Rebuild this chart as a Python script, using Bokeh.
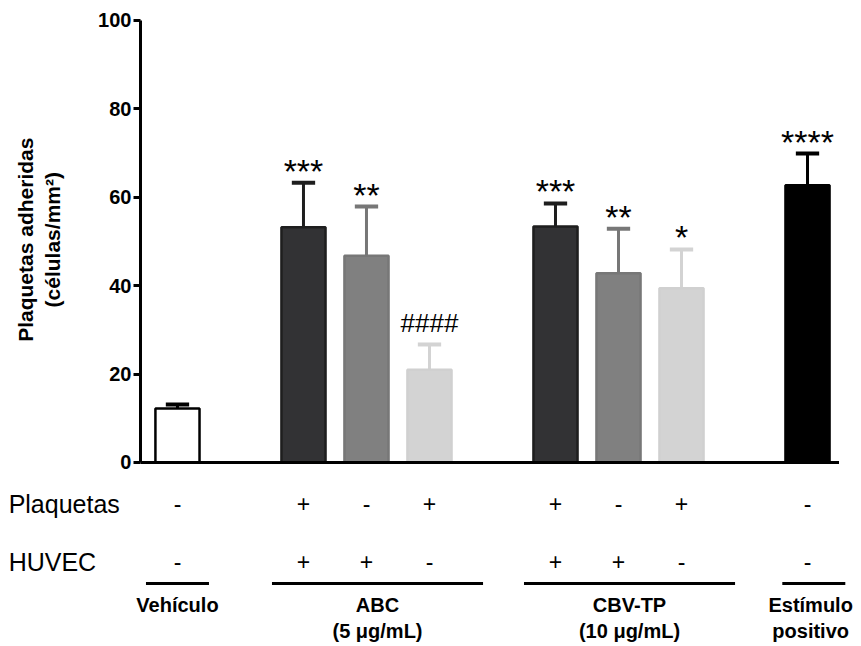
import math
from bokeh.plotting import figure
from bokeh.models import ColumnDataSource, Range1d, FixedTicker
from bokeh.core.properties import value
from bokeh.embed import file_html
from bokeh.resources import INLINE

# ---------------- data ----------------
groups = ["Vehículo", "ABC\n(5 μg/mL)", "CBV-TP\n(10 μg/mL)", "Estímulo\npositivo"]
bar_group = [0, 1, 1, 1, 2, 2, 2, 3]
means = [12.2, 53.2, 46.8, 21.0, 53.4, 42.8, 39.4, 62.7]
errors = [0.9, 10.1, 11.1, 5.7, 5.2, 10.1, 8.8, 7.2]
signif = ["", "***", "**", "####", "***", "**", "*", "****"]
plaquetas = ["-", "+", "-", "+", "+", "-", "+", "-"]
huvec = ["-", "+", "+", "-", "+", "+", "-", "-"]
row_labels = ["Plaquetas", "HUVEC"]
y_title = "Plaquetas adheridas\n(células/mm²)"
y_ticks = [0, 20, 40, 60, 80, 100]

# ---------------- styles ----------------
fills = ["#ffffff", "#323234", "#808080", "#d3d3d3", "#323234", "#808080", "#d3d3d3", "#000000"]
lines = ["#000000", "#1e1e1e", "#777777", "#d0d0d0", "#1e1e1e", "#777777", "#d0d0d0", "#000000"]
err_colors = ["#000000", "#1e1e1e", "#777777", "#d3d3d3", "#1e1e1e", "#777777", "#d3d3d3", "#000000"]
FONT = "Liberation Sans"

# positions: one slot per bar, one empty slot between groups
xs = [i + g for i, g in enumerate(bar_group)]

BAR_W = 0.7
CAP_W = 0.37
X0, X1 = -2.809, 10.857
AXIS_X = -0.587

p = figure(width=861, height=646, output_backend="svg", toolbar_location=None,
           x_range=Range1d(X0, X1), y_range=Range1d(-41.63, 104.52),
           min_border=0, min_border_left=0, min_border_right=0,
           min_border_top=0, min_border_bottom=0,
           x_axis_location=None)
p.outline_line_color = None
p.grid.visible = False
p.background_fill_color = "white"
p.border_fill_color = "white"

yax = p.yaxis[0]
yax.fixed_location = AXIS_X
yax.bounds = (0, 100)
yax.ticker = FixedTicker(ticks=y_ticks)
yax.minor_tick_line_color = None
yax.axis_line_width = 3
yax.major_tick_line_width = 3
yax.major_tick_out = 7
yax.major_tick_in = 0
yax.major_label_standoff = 2
yax.major_label_text_font = FONT
yax.major_label_text_font_style = "bold"
yax.major_label_text_font_size = "20px"
yax.major_label_text_color = "black"

# y title (drawn as rotated text beside the axis)
p.text(x=[-2.198], y=[50.4], text=[y_title], angle=math.pi / 2,
       text_align="center", text_baseline="middle", text_font=value(FONT),
       text_font_style="bold", text_font_size="21px", text_line_height=1.15,
       text_color="black")

src = ColumnDataSource(dict(
    x=xs, top=means,
    up=[m + e for m, e in zip(means, errors)],
    cap0=[x - CAP_W / 2 for x in xs], cap1=[x + CAP_W / 2 for x in xs],
    fill=fills, line=lines, ecol=err_colors,
))

# error bars (upper only)
p.segment(x0="x", y0="top", x1="x", y1="up", source=src, line_color="ecol", line_width=3)
p.segment(x0="cap0", y0="up", x1="cap1", y1="up", source=src, line_color="ecol", line_width=4)

# bars
p.vbar(x="x", width=BAR_W, top="top", bottom=0, source=src,
       fill_color="fill", line_color="line", line_width=2.5)

# baseline
p.segment(x0=[AXIS_X], y0=[0], x1=[max(xs) + 0.5], y1=[0], line_color="black", line_width=3)

# significance marks
ast_idx = [i for i, s in enumerate(signif) if s.startswith("*")]
hash_idx = [i for i, s in enumerate(signif) if s.startswith("#")]
p.text(x=[xs[i] for i in ast_idx], y=[means[i] + errors[i] for i in ast_idx],
       text=[signif[i] for i in ast_idx], text_align="center", text_baseline="alphabetic",
       y_offset=-12, text_font=value(FONT), text_font_size="34px", text_color="black")
p.text(x=[xs[i] for i in hash_idx], y=[means[i] + errors[i] for i in hash_idx],
       text=[signif[i] for i in hash_idx], text_align="center", text_baseline="alphabetic",
       y_offset=-21, text_font=value(FONT), text_font_size="26px", text_color="black")

# condition table
ROW_Y = [-9.3, -22.4]
for vals, ry in ((plaquetas, ROW_Y[0]), (huvec, ROW_Y[1])):
    p.text(x=xs, y=[ry] * len(xs), text=vals, text_align="center", text_baseline="alphabetic",
           text_font=value(FONT), text_font_size="23px", text_color="black")
p.text(x=[-2.68] * len(row_labels), y=ROW_Y, text=row_labels, text_align="left",
       text_baseline="alphabetic", text_font=value(FONT), text_font_size="25px",
       text_color="black")

# group lines and names
g_x0, g_x1, g_c = [], [], []
for g in range(len(groups)):
    gx = [x for x, bg in zip(xs, bar_group) if bg == g]
    n = len(gx)
    a = min(gx) - 0.5
    b = max(gx) + 0.5 + (0.35 if n > 1 else 0.1 * (g > 0))
    g_x0.append(a + (0.1 if g == len(groups) - 1 else 0))
    g_x1.append(b)
    g_c.append((a + b) / 2)
LINE_Y = -27.4
p.segment(x0=g_x0, y0=[LINE_Y] * len(groups), x1=g_x1, y1=[LINE_Y] * len(groups),
          line_color="black", line_width=3)
p.text(x=g_c, y=[-29.7] * len(groups), text=groups, text_align="center", text_baseline="top",
       text_font=value(FONT), text_font_style="bold", text_font_size="20px",
       text_line_height=1.2, text_color="black")

open("out.html", "w").write(file_html(p, INLINE))
